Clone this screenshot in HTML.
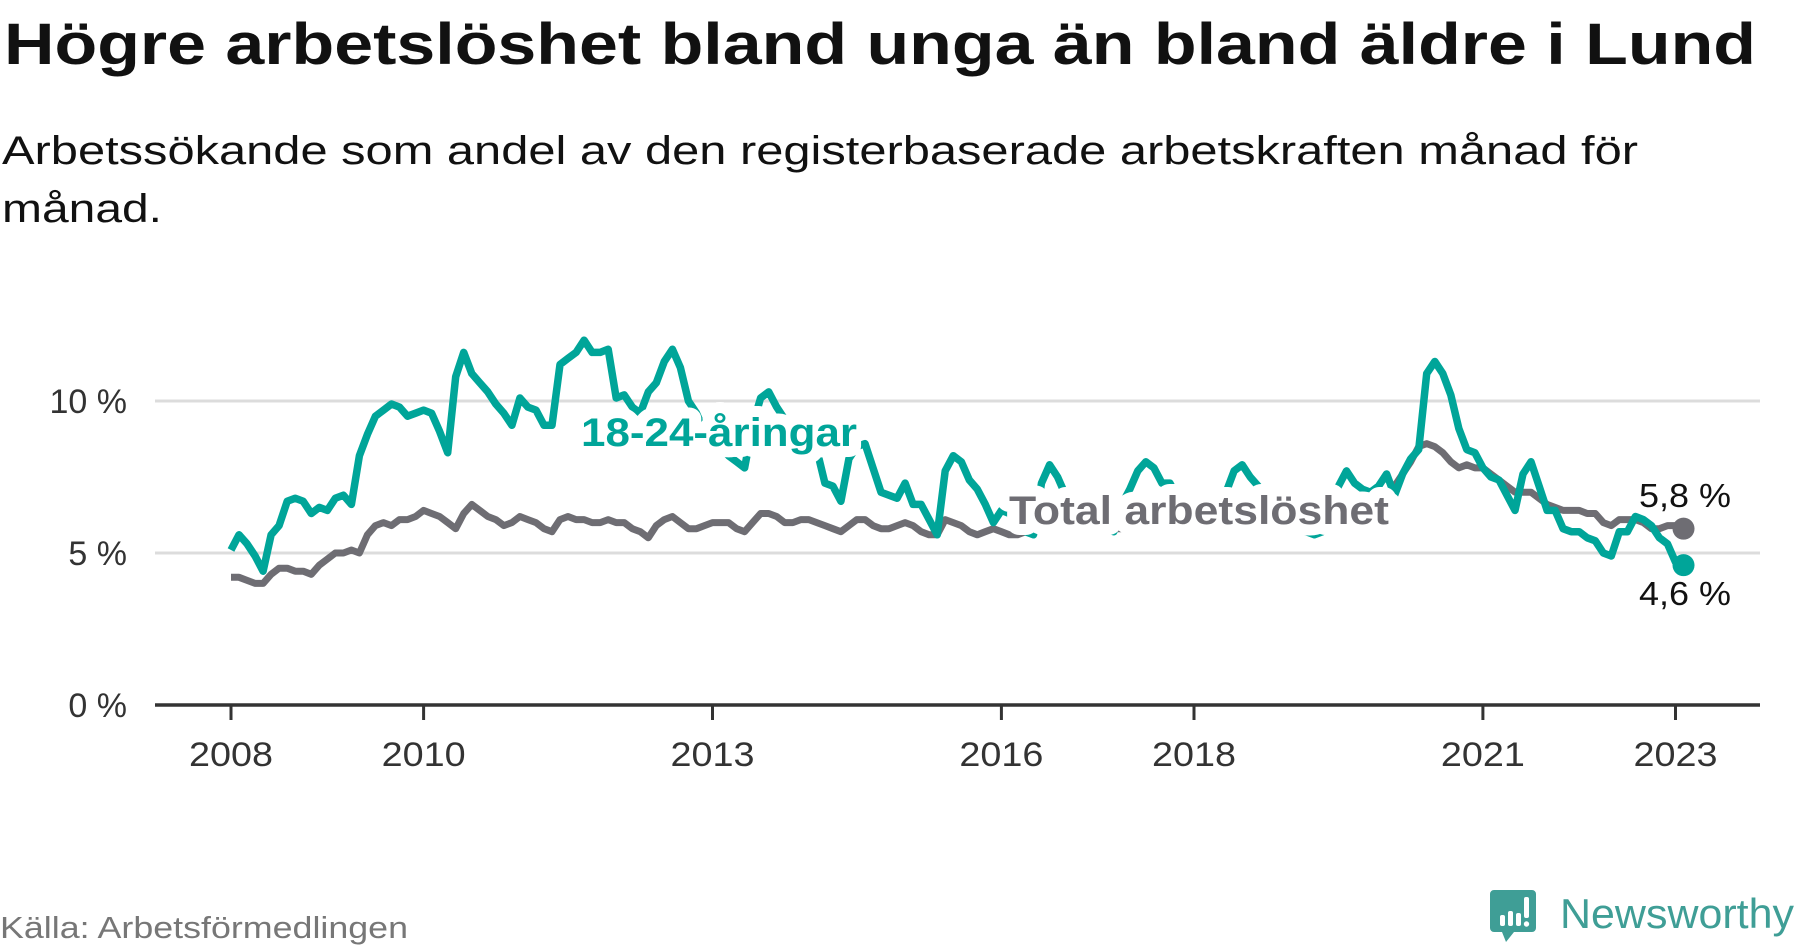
<!DOCTYPE html>
<html><head><meta charset="utf-8"><style>
body{margin:0;background:#fff;}
svg{display:block;font-family:"Liberation Sans",sans-serif;}
</style></head><body>
<svg width="1800" height="948" viewBox="0 0 1800 948">
<text x="4" y="64" font-size="58" font-weight="bold" fill="#111" textLength="1752" lengthAdjust="spacingAndGlyphs">Högre arbetslöshet bland unga än bland äldre i Lund</text>
<text x="2" y="164" font-size="40" fill="#111" textLength="1636" lengthAdjust="spacingAndGlyphs">Arbetssökande som andel av den registerbaserade arbetskraften månad för</text>
<text x="2" y="222" font-size="40" fill="#111" textLength="160" lengthAdjust="spacingAndGlyphs">månad.</text>
<g id="grid"></g>
<g id="series"></g>
<g id="labels"></g>
<g id="axis"></g>
<text x="0" y="938" font-size="31" fill="#777" textLength="408" lengthAdjust="spacingAndGlyphs">Källa: Arbetsförmedlingen</text>
<g>
<path d="M1494 890 h38 a4 4 0 0 1 4 4 v34 a4 4 0 0 1 -4 4 h-18 l-8 10 l-4 -10 h-8 a4 4 0 0 1 -4 -4 v-34 a4 4 0 0 1 4 -4z" fill="#3f9e96"/>
<rect x="1500" y="915" width="5" height="11" rx="2" fill="#fff"/>
<rect x="1508" y="911" width="5" height="15" rx="2" fill="#fff"/>
<rect x="1516" y="913" width="5" height="13" rx="2" fill="#fff"/>
<rect x="1524" y="897" width="5" height="21" rx="2" fill="#fff"/>
<circle cx="1526.5" cy="924" r="2.7" fill="#fff"/>
<text x="1560" y="928" font-size="42" fill="#3f9e96" textLength="234" lengthAdjust="spacingAndGlyphs">Newsworthy</text>
</g>
<script>
const yTicks=[0,5,10];
const yTickLabels=["0 %","5 %","10 %"];
const xTickYears=[2008,2010,2013,2016,2018,2021,2023];
const startYear=2008;
const youth=[
5.1,5.6,5.3,4.9,4.4,5.6,5.9,6.7,6.8,6.7,6.3,6.5,
6.4,6.8,6.9,6.6,8.2,8.9,9.5,9.7,9.9,9.8,9.5,9.6,
9.7,9.6,9.0,8.3,10.8,11.6,10.9,10.6,10.3,9.9,9.6,9.2,
10.1,9.8,9.7,9.2,9.2,11.2,11.4,11.6,12.0,11.6,11.6,11.7,
10.1,10.2,9.8,9.6,10.3,10.6,11.3,11.7,11.1,10.0,9.6,9.0,
8.8,8.5,8.2,8.0,7.8,9.2,10.1,10.3,9.8,9.4,9.0,8.7,
8.6,8.4,7.3,7.2,6.7,8.1,8.5,8.6,7.8,7.0,6.9,6.8,
7.3,6.6,6.6,6.1,5.6,7.7,8.2,8.0,7.4,7.1,6.6,6.0,
6.4,6.3,5.9,5.7,5.6,7.3,7.9,7.5,6.9,6.5,6.2,6.0,
5.9,5.8,5.7,6.6,7.1,7.7,8.0,7.8,7.3,7.3,6.8,6.6,
6.6,6.4,6.5,6.8,7.0,7.7,7.9,7.5,7.2,6.8,6.5,6.2,
6.0,5.8,5.7,5.6,5.7,6.5,7.2,7.7,7.3,7.1,7.0,7.2,
7.6,6.9,7.6,8.1,8.4,10.9,11.3,10.9,10.2,9.1,8.4,8.3,
7.8,7.5,7.4,6.9,6.4,7.6,8.0,7.2,6.4,6.4,5.8,5.7,
5.7,5.5,5.4,5.0,4.9,5.7,5.7,6.2,6.1,5.9,5.5,5.3,
4.7,4.6];
const total=[
4.2,4.2,4.1,4.0,4.0,4.3,4.5,4.5,4.4,4.4,4.3,4.6,
4.8,5.0,5.0,5.1,5.0,5.6,5.9,6.0,5.9,6.1,6.1,6.2,
6.4,6.3,6.2,6.0,5.8,6.3,6.6,6.4,6.2,6.1,5.9,6.0,
6.2,6.1,6.0,5.8,5.7,6.1,6.2,6.1,6.1,6.0,6.0,6.1,
6.0,6.0,5.8,5.7,5.5,5.9,6.1,6.2,6.0,5.8,5.8,5.9,
6.0,6.0,6.0,5.8,5.7,6.0,6.3,6.3,6.2,6.0,6.0,6.1,
6.1,6.0,5.9,5.8,5.7,5.9,6.1,6.1,5.9,5.8,5.8,5.9,
6.0,5.9,5.7,5.6,5.6,6.1,6.0,5.9,5.7,5.6,5.7,5.8,
5.7,5.6,5.6,5.7,5.8,5.9,6.0,5.9,5.8,5.8,5.8,5.9,
5.9,5.9,5.8,5.8,5.9,6.0,6.1,6.0,5.9,5.9,5.9,6.0,
6.0,6.0,5.9,5.9,6.0,6.1,6.2,6.1,6.0,6.0,6.0,6.1,
6.1,6.1,6.0,6.0,6.1,6.2,6.4,6.4,6.3,6.4,6.5,6.7,
6.9,7.2,7.6,8.0,8.5,8.6,8.5,8.3,8.0,7.8,7.9,7.8,
7.8,7.6,7.4,7.2,7.0,7.0,7.0,6.8,6.6,6.5,6.4,6.4,
6.4,6.3,6.3,6.0,5.9,6.1,6.1,6.1,6.0,5.8,5.8,5.9,
5.9,5.8];
const NS="http://www.w3.org/2000/svg";
const X0=231,PX_YEAR=96.3,Y0=705,PX_PCT=30.4,XL=155,XR=1760;
function xScale(m){return X0+m*PX_YEAR/12;}
function yScale(v){return Y0-v*PX_PCT;}
function mk(tag,parent,attrs){const e=document.createElementNS(NS,tag);for(const k in attrs)e.setAttribute(k,attrs[k]);parent.appendChild(e);return e;}
const grid=document.getElementById('grid');
yTicks.forEach((t,i)=>{
  if(t>0){const l=mk('line',grid,{x1:XL,x2:XR,y1:yScale(t),y2:yScale(t),stroke:'#dcdcdc','stroke-width':3});
  
  }
  const tx=mk('text',grid,{x:127,y:yScale(t)+12,'text-anchor':'end','font-size':34,fill:'#333'});
  tx.textContent=yTickLabels[i];
  
  
});
const ser=document.getElementById('series');
function path(arr){return arr.map((v,i)=>(i?'L':'M')+xScale(i).toFixed(1)+' '+yScale(v).toFixed(1)).join(' ');}
const pg=mk('path',ser,{d:path(total),fill:'none',stroke:'#6e6d73','stroke-width':7,'stroke-linejoin':'round'});


const pt=mk('path',ser,{d:path(youth),fill:'none',stroke:'#00a599','stroke-width':7.5,'stroke-linejoin':'round'});


const cg=mk('circle',ser,{cx:xScale(total.length-1),cy:yScale(total[total.length-1]),r:11,fill:'#6e6d73'});


const ct=mk('circle',ser,{cx:xScale(youth.length-1),cy:yScale(youth[youth.length-1]),r:11,fill:'#00a599'});


const lab=document.getElementById('labels');
function halo(x,y,txt,fill,w,name){
  const t=mk('text',lab,{x:x,y:y,'font-size':40,'font-weight':'bold',fill:fill,stroke:'#fff','stroke-width':22,'stroke-linejoin':'round','paint-order':'stroke',textLength:w,lengthAdjust:'spacingAndGlyphs'});
  t.textContent=txt;
  
  
}
halo(581,446,'18-24-åringar','#00a599',276,'youth-series-label');
halo(1009,524,'Total arbetslöshet','#6e6d73',380,'total-series-label');
const v1=mk('text',lab,{x:1639,y:507,'font-size':33,fill:'#111',textLength:92,lengthAdjust:'spacingAndGlyphs'});
v1.textContent=total[total.length-1].toFixed(1).replace('.',',')+' %';


const v2=mk('text',lab,{x:1639,y:605,'font-size':33,fill:'#111',textLength:92,lengthAdjust:'spacingAndGlyphs'});
v2.textContent=youth[youth.length-1].toFixed(1).replace('.',',')+' %';


const ax=document.getElementById('axis');
const al=mk('line',ax,{x1:XL,x2:XR,y1:Y0,y2:Y0,stroke:'#333','stroke-width':3.5});


xTickYears.forEach(yr=>{
  const x=xScale((yr-startYear)*12);
  const tk=mk('line',ax,{x1:x,x2:x,y1:Y0,y2:Y0+15,stroke:'#333','stroke-width':3});
  
  
  const t=mk('text',ax,{x:x,y:766,'text-anchor':'middle','font-size':34,fill:'#333',textLength:84,lengthAdjust:'spacingAndGlyphs'});
  t.textContent=yr;
  
  
});
</script>
</svg>
</body></html>
